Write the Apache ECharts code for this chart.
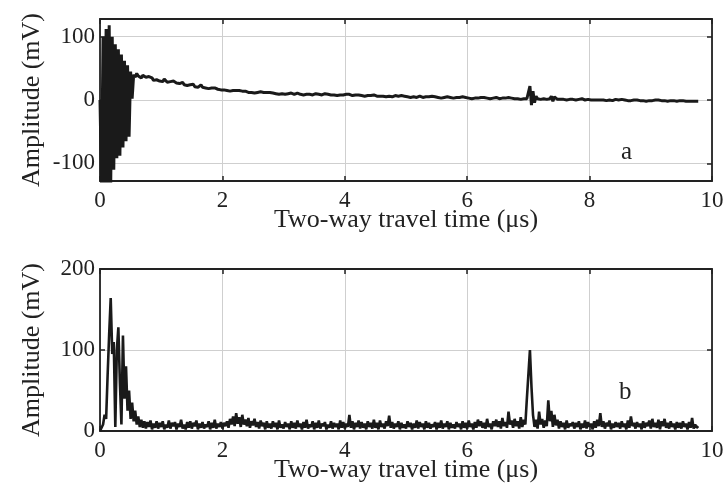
<!DOCTYPE html>
<html><head><meta charset="utf-8">
<script src="https://cdn.jsdelivr.net/npm/echarts@6/dist/echarts.min.js"></script>
<style>html,body{margin:0;padding:0;background:#fff}#c{width:727px;height:493px}</style>
</head><body><div id="c"></div>
<script>
// Sampling interval of both traces (μs); sample i is at time i*SAMPLE_DT
const SAMPLE_DT = 0.025;
const xTicks = [0, 2, 4, 6, 8, 10];
const yTicksA = [-100, 0, 100];
const yTicksB = [0, 100, 200];
const xName = 'Two-way travel time (μs)';
const yName = 'Amplitude (mV)';
const panelLabels = ['a', 'b'];

// Trace a: raw amplitude (mV)
const traceA = [
 0,-135,100,-135,112,-135,118,-135,100,-110,
 88,-92,80,-88,72,-75,62,-65,55,-58,
 45,2,40,36,42,38,41,35,39,37,
 36,33,37,34,35,31,34,32,33,30,
 32,29,33,30,28,31,29,27,30,28,
 27,29,26,25,28,24,26,23,25,24,
 22,25,21,23,20,22,24,20,21,19,
 21,18,20,19,17,19,20,17,18,16,
 18,16,17,15,17,14,16,15,13,15,
 14,15,13,14,12,14,13,12,14,12,
 13,11,13,12,11,13,11,12,10,12,
 11,12,10,11,12,10,11,9,11,10,
 11,9,11,10,9,11,10,9,10,11,
 10,9,10,8,10,9,11,9,10,8,
 9,10,8,9,10,8,9,10,8,9,
 9,8,10,8,9,7,9,8,9,8,
 8,9,7,9,8,7,9,8,7,8,
 8,7,8,6,8,7,8,7,6,8,
 7,6,8,6,7,6,7,5,7,6,
 7,5,6,7,5,6,5,7,5,6,
 6,5,6,4,6,5,6,4,5,6,
 5,4,6,5,4,5,4,6,4,5,
 5,4,5,3,5,4,3,5,4,4,
 4,3,5,4,3,4,3,5,3,4,
 4,3,4,2,4,3,4,3,2,4,
 3,4,2,3,4,2,3,3,2,4,
 3,2,4,3,2,3,2,4,2,3,
 3,2,3,2,3,1,3,2,3,2,
 3,22,-8,14,-4,6,2,3,1,3,
 2,3,1,3,2,6,-2,5,2,1,
 2,1,3,1,2,0,2,1,2,1,
 2,0,2,1,0,2,1,0,2,1,
 1,0,2,0,1,0,2,0,1,0,
 1,-1,1,0,1,-1,0,1,-1,0,
 0,1,-1,0,1,-1,0,-1,1,0,
 -1,0,1,-1,0,-1,0,-2,0,-1,
 0,-1,-2,0,-1,0,-2,-1,0,-1,
 -1,-2,0,-1,-2,-1,0,-2,-1,-1,
 -2,-1,-1,-2,0,-2,-1,-2,-1,-2,
 -1,-2
];

// Trace b: envelope amplitude (mV)
const traceB = [
 0,0,8,20,15,70,120,164,95,110,
 5,100,128,60,8,118,40,80,25,50,
 15,35,12,25,8,18,5,14,4,12,
 3,11,5,13,2,9,4,12,3,10,
 5,12,2,8,4,13,3,10,6,11,
 2,9,5,14,3,8,2,11,4,12,
 3,10,6,13,2,9,4,11,3,8,
 5,12,2,10,4,14,3,9,5,11,
 3,10,6,12,4,15,8,18,6,22,
 9,17,5,20,8,14,6,16,4,12,
 7,15,5,11,3,13,6,10,2,12,
 4,9,3,12,5,10,2,13,4,8,
 3,11,5,9,2,12,4,10,3,13,
 5,9,2,11,4,14,3,8,5,12,
 2,10,4,13,3,9,6,11,2,8,
 4,12,3,10,5,9,2,13,4,11,
 3,9,5,20,4,12,2,10,5,13,
 3,11,4,9,2,12,5,10,3,14,
 4,10,2,13,5,9,3,12,6,19,
 4,11,3,9,5,12,2,10,4,8,
 3,12,5,10,2,9,4,13,3,11,
 5,9,2,12,4,10,3,8,5,11,
 2,10,4,13,3,9,5,12,2,10,
 4,8,3,11,5,9,2,12,4,10,
 3,13,5,9,2,11,4,14,6,12,
 4,10,3,15,5,9,2,12,6,14,
 5,12,3,16,6,11,4,24,8,13,
 4,15,6,12,3,17,5,14,8,40,
 70,100,55,20,5,14,3,24,8,15,
 4,13,6,38,12,25,5,20,7,14,
 3,12,5,10,2,13,4,9,6,11,
 3,10,5,12,2,9,4,13,3,11,
 5,9,2,12,4,14,6,22,5,12,
 3,10,6,13,2,9,4,11,5,10,
 3,12,5,9,2,13,4,18,6,10,
 3,11,5,9,2,12,4,10,6,13,
 3,15,5,10,4,14,2,12,6,15,
 4,10,3,12,5,9,2,11,4,10,
 3,12,5,9,2,11,4,16,3,8,
 4,6
];

const toPairs = arr => arr.map((v, i) => [+(i * SAMPLE_DT).toFixed(3), v]);

const FONT = 'Liberation Serif';
const TXT = '#222';
const AXC = '#222';
const GRIDC = '#cfcfcf';

function xAx(grid, main) {
  return {
    type: 'value', gridIndex: grid, min: xTicks[0], max: xTicks[xTicks.length - 1], interval: 2,
    position: main ? 'bottom' : 'top',
    axisLine: { show: true, onZero: false, lineStyle: { color: AXC, width: 1.8 } },
    axisTick: { show: true, inside: true, length: 5, lineStyle: { color: AXC, width: 1.5 } },
    axisLabel: { show: main, fontFamily: FONT, fontSize: 23, color: TXT, margin: 8 },
    splitLine: { show: main, lineStyle: { color: GRIDC, width: 1 } },
    name: main ? xName : '', nameLocation: 'middle', nameGap: 26, nameMoveOverlap: false,
    nameTextStyle: { fontFamily: FONT, fontSize: 26, color: TXT, verticalAlign: 'top' }
  };
}
function yAx(grid, main, min, max, ticks) {
  return {
    type: 'value', gridIndex: grid, min: min, max: max,
    position: main ? 'left' : 'right',
    axisLine: { show: true, onZero: false, lineStyle: { color: AXC, width: 1.8 } },
    axisTick: { show: true, inside: true, length: 5, customValues: ticks, lineStyle: { color: AXC, width: 1.5 } },
    axisLabel: { show: main, customValues: ticks, fontFamily: FONT, fontSize: 23, color: TXT, margin: 5 },
    splitLine: { show: main, lineStyle: { color: GRIDC, width: 1 } },
    name: main ? yName : '', nameLocation: 'middle', nameGap: 55, nameMoveOverlap: false,
    nameTextStyle: { fontFamily: FONT, fontSize: 26, color: TXT }
  };
}

const chart = echarts.init(document.getElementById('c'), null, { renderer: 'canvas' });
chart.setOption({
  animation: false,
  backgroundColor: '#fff',
  grid: [
    { left: 100, top: 19, width: 612, height: 162 },
    { left: 100, top: 269, width: 612, height: 162 }
  ],
  xAxis: [xAx(0, true), xAx(0, false), xAx(1, true), xAx(1, false)],
  yAxis: [
    yAx(0, true, -128, 128, yTicksA), yAx(0, false, -128, 128, yTicksA),
    yAx(1, true, 0, 200, yTicksB), yAx(1, false, 0, 200, yTicksB)
  ],
  graphic: [
    { type: 'text', left: 621, top: 140, style: { text: panelLabels[0], font: '25px "Liberation Serif"', fill: TXT } },
    { type: 'text', left: 619, top: 380, style: { text: panelLabels[1], font: '25px "Liberation Serif"', fill: TXT } }
  ],
  series: [
    { type: 'line', xAxisIndex: 0, yAxisIndex: 0, data: toPairs(traceA), showSymbol: false, sampling: null,
      lineStyle: { color: '#1a1a1a', width: 3 }, clip: true },
    { type: 'line', xAxisIndex: 2, yAxisIndex: 2, data: toPairs(traceB), showSymbol: false, sampling: null,
      lineStyle: { color: '#1a1a1a', width: 2.6 }, clip: true }
  ]
});
</script></body></html>
